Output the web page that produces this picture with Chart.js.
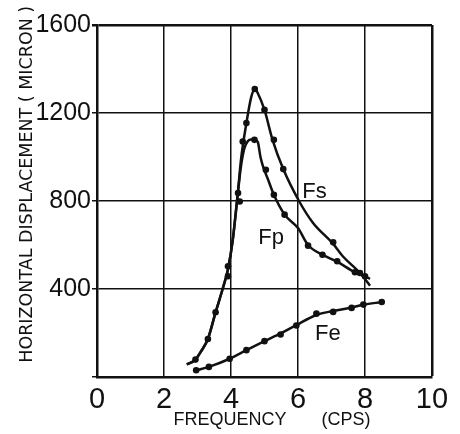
<!DOCTYPE html>
<html>
<head>
<meta charset="utf-8">
<script src="https://cdn.jsdelivr.net/npm/chart.js@4"></script>
<style>
  body { margin: 0; background: #fff; }
  #wrap { width: 460px; height: 434px; }
</style>
</head>
<body>
<div id="wrap"><canvas id="chart"></canvas></div>
<script>
// tick labels
var xTicks = [0, 2, 4, 6, 8, 10];
var yTicks = [0, 400, 800, 1200, 1600];

// faired curves [frequency, displacement]
var curveFs = [[2.68, 57], [2.94, 79], [3.1, 115], [3.31, 173], [3.54, 294], [3.75, 400], [3.91, 490], [4.05, 620], [4.2, 830],
  [4.3, 990], [4.46, 1154], [4.6, 1270], [4.71, 1309], [4.8, 1290], [5.0, 1214], [5.24, 1078], [5.56, 945], [6.03, 800],
  [6.45, 700], [7.05, 605], [7.33, 550], [7.85, 473], [8.15, 415]];
var curveFp = [[2.68, 57], [2.94, 79], [3.1, 115], [3.31, 173], [3.54, 294], [3.75, 400], [3.91, 490], [4.05, 620], [4.2, 830],
  [4.3, 960], [4.4, 1040], [4.5, 1072], [4.6, 1080], [4.72, 1078], [4.8, 1068], [4.88, 1000], [4.96, 955], [5.1, 900],
  [5.28, 828], [5.6, 738], [6.0, 677], [6.3, 600], [6.73, 556], [7.17, 524], [7.7, 476], [8.0, 458], [8.15, 446]];
var curveFe = [[2.96, 30], [3.34, 46], [3.96, 83], [4.46, 122], [5.0, 163], [5.48, 198], [5.95, 236], [6.55, 282],
  [7.05, 300], [7.6, 316], [7.95, 328], [8.5, 341]];

// measured points
var pointsFs = [[4.46, 1154], [4.71, 1309], [5.0, 1214], [5.28, 1078], [5.56, 945], [7.05, 612], [7.85, 473]];
var pointsFp = [[2.94, 79], [3.31, 173], [3.54, 294], [3.91, 458], [3.91, 503], [4.21, 836], [4.26, 798],
  [4.35, 1070], [4.7, 1078], [5.04, 942], [5.28, 828], [5.6, 738], [6.3, 597], [6.73, 556], [7.17, 526], [7.7, 476], [8.0, 458]];
var pointsFe = [[2.96, 31], [3.34, 46], [3.96, 83], [4.46, 122], [5.0, 163], [5.48, 193], [5.95, 234], [6.55, 288],
  [7.05, 296], [7.6, 314], [7.95, 329], [8.5, 341]];

// curve names, placed in data units
var curveLabels = [['Fs', 6.49, 839], ['Fp', 5.2, 632], ['Fe', 6.89, 194]];

function xy(arr) {
  return arr.map(function (p) { return { x: p[0], y: p[1] }; });
}

function lineSet(arr) {
  return {
    type: 'line', data: xy(arr), borderColor: '#111', borderWidth: 2.5,
    pointRadius: 0, fill: false, cubicInterpolationMode: 'monotone'
  };
}
function dotSet(arr) {
  return {
    type: 'scatter', data: xy(arr), backgroundColor: '#111', borderColor: '#111',
    pointRadius: 3.3, borderWidth: 0
  };
}

var labelPlugin = {
  id: 'curveLabels',
  afterDatasetsDraw: function (chart) {
    var c = chart.ctx;
    c.save();
    c.fillStyle = '#111';
    c.font = '22px "Liberation Sans", "DejaVu Sans", sans-serif';
    c.textAlign = 'center';
    c.textBaseline = 'middle';
    curveLabels.forEach(function (l) {
      c.fillText(l[0], chart.scales.x.getPixelForValue(l[1]), chart.scales.y.getPixelForValue(l[2]));
    });
    c.restore();
  }
};

new Chart(document.getElementById('chart'), {
  type: 'scatter',
  data: {
    datasets: [lineSet(curveFs), lineSet(curveFp), lineSet(curveFe), dotSet(pointsFs), dotSet(pointsFp), dotSet(pointsFe)]
  },
  options: {
    responsive: true,
    maintainAspectRatio: false,
    animation: false,
    layout: { padding: { top: 25, right: 28, left: 0, bottom: 0 } },
    plugins: { legend: { display: false }, tooltip: { enabled: false } },
    scales: {
      x: {
        type: 'linear', min: 0, max: 10,
        afterFit: function (s) { s.height = 57; },
        afterBuildTicks: function (s) { s.ticks = xTicks.map(function (v) { return { value: v }; }); },
        ticks: { color: '#111', font: { family: '"Liberation Sans", sans-serif', size: 29 }, padding: 6, maxRotation: 0 },
        grid: {
          color: '#111', drawTicks: false,
          lineWidth: function (ctx) { return ctx.tick && ctx.tick.value === 10 ? 2.5 : 1.5; }
        },
        border: { color: '#111', width: 2.5 },
        title: {
          display: true, text: '   FREQUENCY       (CPS)', color: '#111',
          font: { family: '"Liberation Sans", sans-serif', size: 18 }, padding: { top: 0, bottom: 3 }
        }
      },
      y: {
        type: 'linear', min: 0, max: 1600,
        afterFit: function (s) { s.width = 97; },
        afterBuildTicks: function (s) { s.ticks = yTicks.map(function (v) { return { value: v }; }); },
        ticks: {
          color: '#111', font: { family: '"Liberation Sans", sans-serif', size: 25 }, padding: 1,
          callback: function (v) { return v === 0 ? '' : v; }
        },
        grid: {
          color: '#111', drawTicks: true, tickLength: 5,
          lineWidth: function (ctx) { return ctx.tick && ctx.tick.value === 1600 ? 2.5 : 1.5; }
        },
        border: { color: '#111', width: 2.5 },
        title: {
          display: true, text: '      HORIZONTAL DISPLACEMENT ( MICRON )', color: '#111',
          font: { family: '"DejaVu Sans", sans-serif', size: 17.5 }, padding: { top: 17, bottom: 0 }
        }
      }
    }
  },
  plugins: [labelPlugin]
});
</script>
</body>
</html>
